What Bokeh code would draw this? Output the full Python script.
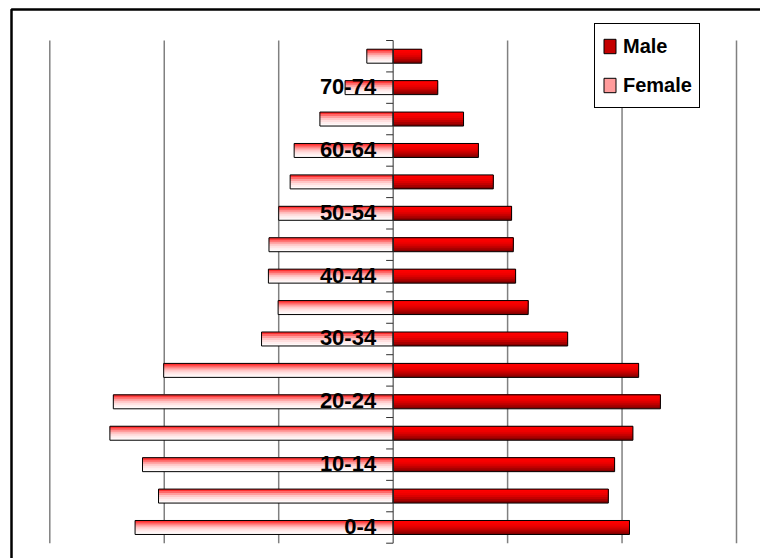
import numpy as np
from bokeh.plotting import figure
from bokeh.models import Range1d, BoxAnnotation, Legend, LegendItem
from bokeh.core.properties import value
from bokeh.embed import file_html
from bokeh.resources import INLINE

# ---- data ----
age_groups = ["0-4", "5-9", "10-14", "15-19", "20-24", "25-29", "30-34", "35-39",
              "40-44", "45-49", "50-54", "55-59", "60-64", "65-69", "70-74", "75+"]
male = [4.13, 3.76, 3.87, 4.19, 4.67, 4.29, 3.05, 2.36,
        2.14, 2.10, 2.07, 1.75, 1.49, 1.23, 0.78, 0.50]
female = [4.51, 4.10, 4.38, 4.95, 4.89, 4.01, 2.30, 2.01,
          2.18, 2.17, 2.00, 1.80, 1.73, 1.28, 0.84, 0.46]
shown_labels = age_groups[::2]
grid_values = [-6, -4, -2, 2, 4, 6]

# ---- layout / styling ----
W, H = 760, 558
FONT = "Liberation Sans"
# plot area in canvas pixels
PA_LEFT, PA_RIGHT, PA_TOP, PA_BOTTOM = 49.3, 736.0, 40.0, 542.7
x_min, x_max = grid_values[0], grid_values[-1]
n = len(age_groups)
px_per_x = (PA_RIGHT - PA_LEFT) / (x_max - x_min)
px_per_y = (PA_BOTTOM - PA_TOP) / n
x_start = x_min - PA_LEFT / px_per_x
x_end = x_max + (W - PA_RIGHT) / px_per_x
y_start = -0.5 - (H - PA_BOTTOM) / px_per_y
y_end = n - 0.5 + PA_TOP / px_per_y

male_colors = ["#FF0000", "#F80000", "#EE0000", "#DC0000", "#C40000", "#A80000", "#880000"]
female_colors = ["#FF3030", "#FF6868", "#FF9C9C", "#FFC6C6", "#FFDFDF", "#FFEFEF", "#FFFAFA"]
bar_h = 0.445
n_strips = len(male_colors)
strip_h = bar_h / n_strips

ys = np.arange(n)

p = figure(width=W, height=H, output_backend="svg", toolbar_location=None,
           x_range=Range1d(x_start, x_end), y_range=Range1d(y_start, y_end),
           x_axis_location=None, y_axis_location=None,
           min_border=0, min_border_left=0, min_border_right=0,
           min_border_top=0, min_border_bottom=0)
p.outline_line_color = None
p.background_fill_color = "white"
p.border_fill_color = "white"
p.grid.visible = False

# vertical gridlines within the plot area
p.segment(x0=grid_values, y0=[-0.5] * len(grid_values),
          x1=grid_values, y1=[n - 0.5] * len(grid_values),
          line_color="#808080", line_width=1.5)

male_arr = np.array(male)
female_arr = np.array(female)

# gradient bars: layered rectangles anchored at the bar top
male_strips = {}
female_strips = {}
for k in reversed(range(n_strips)):
    h = (k + 1) * strip_h
    yc = ys + bar_h / 2 - h / 2
    male_strips[k] = p.hbar(y=yc, left=0, right=male_arr, height=h,
                            fill_color=male_colors[k], line_color=None)
    female_strips[k] = p.hbar(y=yc, left=-female_arr, right=0, height=h,
                              fill_color=female_colors[k], line_color=None)

male_outline = p.hbar(y=ys, left=0, right=male_arr, height=bar_h,
                      fill_color=None, line_color="black", line_width=1)
female_outline = p.hbar(y=ys, left=-female_arr, right=0, height=bar_h,
                        fill_color=None, line_color="black", line_width=1)

# central axis line and tick marks
p.segment(x0=[0], y0=[-0.5], x1=[0], y1=[n - 0.5], line_color="#303030", line_width=1)
boundaries = np.arange(n + 1) - 0.5
p.ray(x=np.zeros(n + 1), y=boundaries, length=7, length_units="screen",
      angle=np.pi, line_color="#303030", line_width=1)

# category labels
label_y = [age_groups.index(l) for l in shown_labels]
p.text(x=[0] * len(shown_labels), y=label_y, text=shown_labels,
       x_offset=-17, y_offset=-1, text_align="right", text_baseline="middle",
       text_font=value(FONT), text_font_style="bold", text_font_size="22px",
       text_color="black")

# legend
legend = Legend(items=[
    LegendItem(label="Male", renderers=[male_strips[4], male_outline]),
    LegendItem(label="Female", renderers=[female_strips[2], female_outline]),
], location=(594, 450))
legend.label_text_font = FONT
legend.label_text_font_style = "bold"
legend.label_text_font_size = "20px"
legend.label_text_color = "black"
legend.glyph_width = 15
legend.glyph_height = 18
legend.label_height = 30
legend.label_standoff = 6
legend.spacing = 9
legend.padding = 7
legend.margin = 0
legend.border_line_color = "black"
legend.border_line_width = 1
legend.border_line_alpha = 1.0
legend.background_fill_color = "white"
legend.background_fill_alpha = 1.0
p.add_layout(legend)

# outer chart-area frame (left and top edges visible)
frame_box = BoxAnnotation(left=11, right=W + 60, top=9, bottom=H + 60,
                          left_units="canvas", right_units="canvas",
                          top_units="canvas", bottom_units="canvas",
                          fill_color=None, fill_alpha=0,
                          line_color="black", line_alpha=1.0, line_width=2.5)
p.add_layout(frame_box)

open("out.html", "w").write(file_html(p, INLINE))
